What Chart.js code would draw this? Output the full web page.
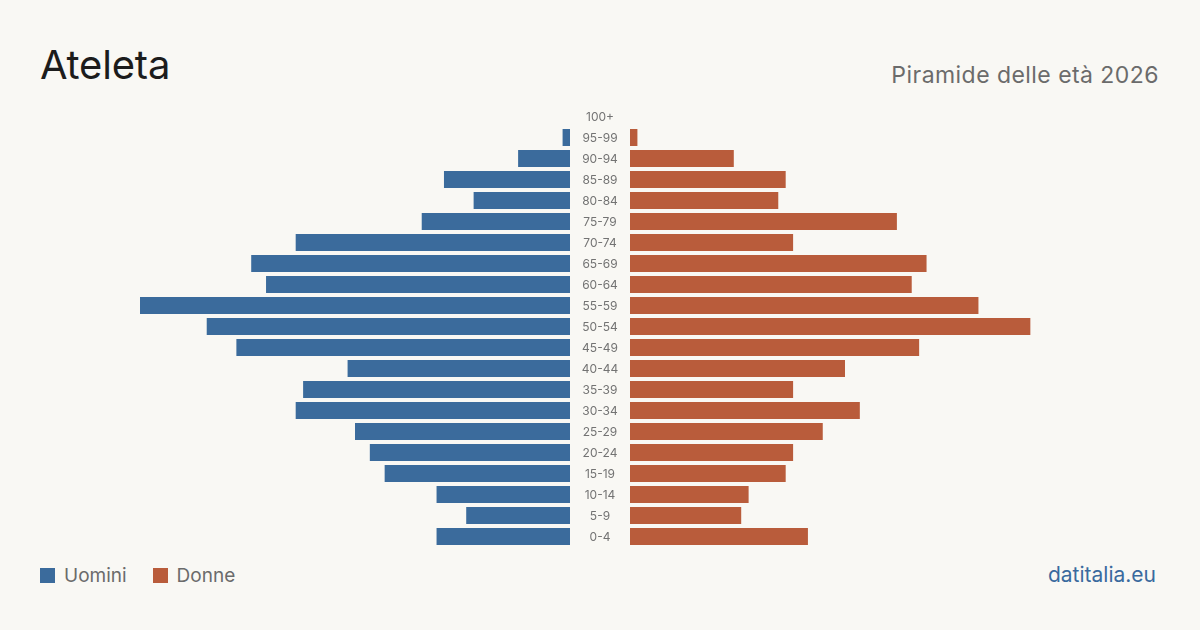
<!DOCTYPE html>
<html>
<head>
<meta charset="utf-8">
<script src="https://cdn.jsdelivr.net/npm/chart.js@4/dist/chart.umd.min.js"></script>
<style>
  html, body { margin: 0; padding: 0; }
  body { width: 1200px; height: 630px; background: #f9f8f4; position: relative; overflow: hidden; font-family: Inter, "Noto Sans", sans-serif; }
  #title { position: absolute; left: 40px; top: 40px; font-size: 40px; color: #1c1c1c; font-weight: 400; letter-spacing: -0.2px; }
  #subtitle { position: absolute; right: 41px; top: 61px; font-size: 23px; letter-spacing: 0.45px; color: #6b6b6b; }
  #footer { position: absolute; right: 44px; top: 562px; font-size: 21px; color: #3a6a9e; }
  #legend { position: absolute; left: 40px; top: 564px; display: flex; align-items: center; font-size: 19px; color: #6b6b6b; }
  .lg { display: flex; align-items: center; margin-right: 26px; }
  .sw { width: 15px; height: 15px; margin-right: 9px; }
  canvas { position: absolute; }
</style>
</head>
<body>
<div id="title">Ateleta</div>
<div id="subtitle">Piramide delle età 2026</div>
<div id="legend"></div>
<div id="footer">datitalia.eu</div>
<canvas id="left" width="430" height="441" style="left:140px; top:106px;"></canvas>
<canvas id="right" width="490" height="441" style="left:570px; top:106px;"></canvas>
<script>
const ageGroups = ["100+","95-99","90-94","85-89","80-84","75-79","70-74","65-69","60-64","55-59","50-54","45-49","40-44","35-39","30-34","25-29","20-24","15-19","10-14","5-9","0-4"];
const uomini = [0,1,7,17,13,20,37,43,41,58,49,45,30,36,37,29,27,25,18,14,18];
const donne  = [0,1,14,21,20,36,22,40,38,47,54,39,29,22,31,26,22,21,16,15,24];
const seriesNames = ["Uomini","Donne"];
const seriesColors = ["#3b6b9c","#b95c3b"];
const axisMax = 58;

new Chart(document.getElementById('left'), {
  type: 'bar',
  data: { labels: ageGroups, datasets: [{ label: seriesNames[0], data: uomini, backgroundColor: seriesColors[0], barPercentage: 0.81, categoryPercentage: 1.0 }] },
  options: {
    indexAxis: 'y', responsive: false, animation: false,
    layout: { padding: 0 },
    plugins: { legend: { display: false }, tooltip: { enabled: false } },
    scales: {
      x: { display: false, reverse: true, min: 0, max: axisMax },
      y: { display: false }
    }
  }
});

const centerLabels = {
  id: 'centerLabels',
  afterDatasetsDraw(chart) {
    const ctx = chart.ctx;
    const y = chart.scales.y;
    const cx = chart.chartArea.left - 30;
    ctx.save();
    ctx.font = '12px Inter, "Noto Sans", sans-serif';
    ctx.fillStyle = '#737373';
    ctx.textAlign = 'center';
    ctx.textBaseline = 'middle';
    ageGroups.forEach((lab, i) => {
      ctx.fillText(lab, cx, y.getPixelForValue(i) + 1);
    });
    ctx.restore();
  }
};

new Chart(document.getElementById('right'), {
  type: 'bar',
  data: { labels: ageGroups, datasets: [{ label: seriesNames[1], data: donne, backgroundColor: seriesColors[1], barPercentage: 0.81, categoryPercentage: 1.0 }] },
  options: {
    indexAxis: 'y', responsive: false, animation: false,
    layout: { padding: { left: 60, right: 0, top: 0, bottom: 0 } },
    plugins: { legend: { display: false }, tooltip: { enabled: false } },
    scales: {
      x: { display: false, min: 0, max: axisMax },
      y: { display: false }
    }
  },
  plugins: [centerLabels]
});

const legend = document.getElementById('legend');
seriesNames.forEach((n, i) => {
  const d = document.createElement('div');
  d.className = 'lg';
  d.innerHTML = '<div class="sw" style="background:' + seriesColors[i] + '"></div><span>' + n + '</span>';
  legend.appendChild(d);
});
</script>
</body>
</html>
